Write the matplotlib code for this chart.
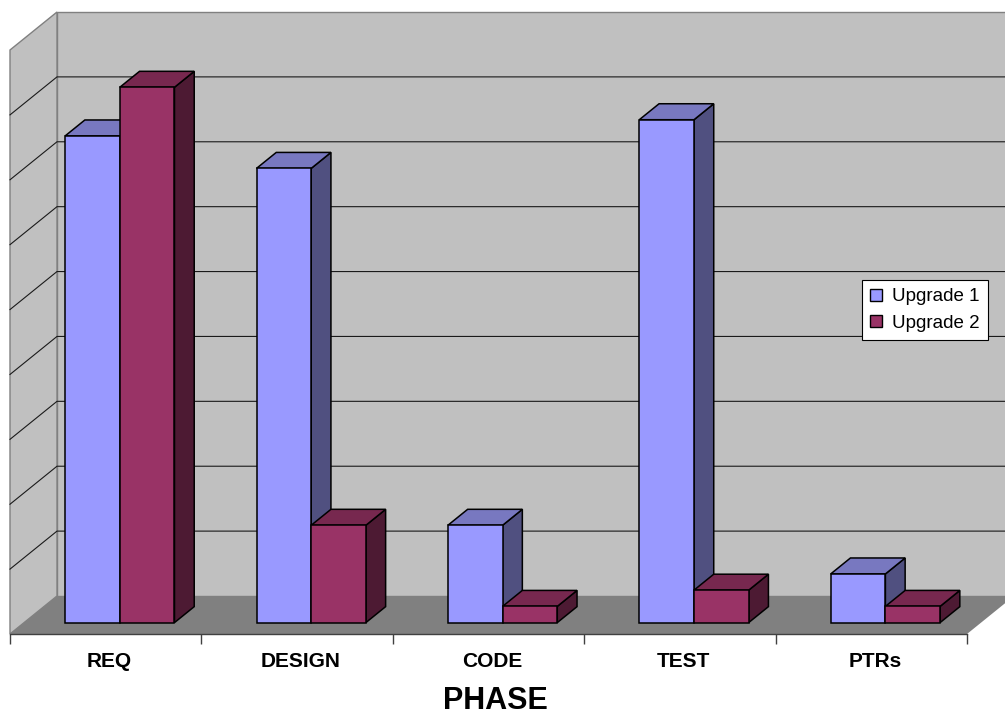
import numpy as np
import matplotlib.pyplot as plt
from matplotlib.patches import Polygon, Patch

plt.rcParams['font.family'] = ['Liberation Sans', 'DejaVu Sans']

categories = ['REQ', 'DESIGN', 'CODE', 'TEST', 'PTRs']
upgrade1 = [30, 28, 6, 31, 3]
upgrade2 = [33, 6, 1, 2, 1]
series = ['Upgrade 1', 'Upgrade 2']
y_max = 36
y_step = 4

# front, top, side shades for each series
shades = [('#9999FF', '#7878C0', '#505080'),
          ('#993366', '#77284F', '#4D1A33')]

fig = plt.figure(figsize=(10.05, 7.14), dpi=100)
ax = fig.add_axes([10/1005, 80/714, 957/1005, 584/714])
ax.set_xlim(0, len(categories))
ax.set_ylim(0, y_max)

# oblique depth offset of the floor, in pixels, turned into data units
depth_px = (47, 38)
ddx = depth_px[0] * len(categories) / ax.bbox.width
ddy = depth_px[1] * y_max / ax.bbox.height


def P(c, v, f):
    return (c + f * ddx, v + f * ddy)


def face(pts, fc, ec, lw=1.0, z=1):
    ax.add_patch(Polygon(pts, closed=True, facecolor=fc, edgecolor=ec,
                         linewidth=lw, clip_on=False, zorder=z,
                         joinstyle='miter'))


n = len(categories)
# walls and floor
face([P(0, 0, 1), P(n, 0, 1), P(n, y_max, 1), P(0, y_max, 1)], '#C0C0C0', '#808080', 1.0, 1)
face([P(0, 0, 0), P(0, 0, 1), P(0, y_max, 1), P(0, y_max, 0)], '#C0C0C0', '#808080', 1.0, 1)
face([P(0, 0, 0), P(n, 0, 0), P(n, 0, 1), P(0, 0, 1)], '#808080', 'none', 0, 1)

# gridlines on the walls
for lev in np.arange(y_step, y_max, y_step):
    xs, ys = zip(P(0, lev, 0), P(0, lev, 1), P(n, lev, 1))
    ax.plot(xs, ys, color='#1a1a1a', lw=0.8, clip_on=False, zorder=2)

# bars: gap width 150% of a bar
w = 1 / 3.5
f0, f1 = 0.30, 0.72
for i in range(n):
    for j, vals in enumerate([upgrade1, upgrade2]):
        v = vals[i]
        x0 = i + (0.75 + j) * w
        x1 = x0 + w
        fc, tc, sc = shades[j]
        z = 3 + i * 2 + j
        face([P(x1, 0, f0), P(x1, 0, f1), P(x1, v, f1), P(x1, v, f0)], sc, 'black', 1.1, z)
        face([P(x0, v, f0), P(x1, v, f0), P(x1, v, f1), P(x0, v, f1)], tc, 'black', 1.1, z)
        face([P(x0, 0, f0), P(x1, 0, f0), P(x1, v, f0), P(x0, v, f0)], fc, 'black', 1.1, z)

# category axis
for s in ['top', 'right', 'left']:
    ax.spines[s].set_visible(False)
ax.spines['bottom'].set_color('#404040')
ax.spines['bottom'].set_linewidth(1.0)
ax.spines['bottom'].set_zorder(20)
ax.set_yticks([])
ax.set_xticks(np.arange(n + 1))
ax.set_xticklabels([])
ax.tick_params(axis='x', which='major', direction='out', length=7, color='#404040', width=1.0)
ax.set_xticks(np.arange(n) + 0.52, minor=True)
ax.set_xticklabels(categories, minor=True, fontsize=15, fontweight='bold')
ax.tick_params(axis='x', which='minor', length=0, pad=13)
ax.patch.set_visible(False)

fig.text(495/1005, 1 - 701/714, 'PHASE', fontsize=22, fontweight='bold',
         ha='center', va='center')

handles = [Patch(facecolor=shades[k][0], edgecolor='black', linewidth=1.0) for k in range(2)]
leg = fig.legend(handles, series, loc='upper left', bbox_to_anchor=(862/1005, 1 - 280/714),
                 fontsize=13.5, frameon=True, fancybox=False, framealpha=1,
                 edgecolor='black', handlelength=0.6, handleheight=0.6,
                 handletextpad=0.55, labelspacing=0.5, borderpad=0.45, borderaxespad=0)
leg.get_frame().set_linewidth(0.8)

fig.savefig('out.png', dpi=100)
